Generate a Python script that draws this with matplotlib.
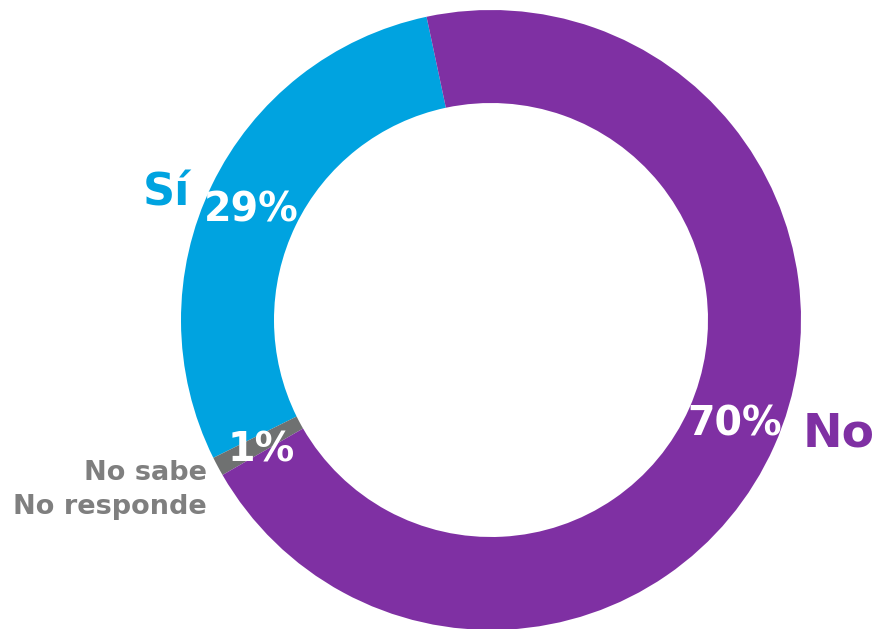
import matplotlib
matplotlib.use("Agg")
import matplotlib.pyplot as plt

# Datos
categorias = ["Sí", "No sabe\nNo responde", "No"]
valores = [29, 1, 70]
etiquetas_pct = ["29%", "1%", "70%"]
colores = ["#00A3E0", "#6F7171", "#7F30A3"]

fig = plt.figure(figsize=(8.79, 6.29), dpi=100)
ax = fig.add_axes([0, 0, 1, 1])

# Donut
ax.pie(valores, colors=colores, startangle=102, counterclock=True,
       center=(491, 309), radius=310, frame=True,
       wedgeprops=dict(width=93, linewidth=0))
ax.set_xlim(0, 879)
ax.set_ylim(0, 629)
ax.set_aspect("equal")
ax.axis("off")

fuente = "DejaVu Sans"

# Porcentajes en blanco
ax.text(251, 629 - 211, etiquetas_pct[0], color="white", fontsize=28.5,
        fontweight="bold", family=fuente, ha="center", va="center")
ax.text(261, 629 - 450, etiquetas_pct[1], color="white", fontsize=28.5,
        fontweight="bold", family=fuente, ha="center", va="center")
ax.text(735, 629 - 424, etiquetas_pct[2], color="white", fontsize=28.5,
        fontweight="bold", family=fuente, ha="center", va="center")

# Etiquetas de categoria
ax.text(166, 629 - 193, categorias[0], color=colores[0], fontsize=32,
        fontweight="bold", family=fuente, ha="center", va="center")
ax.text(207, 629 - 490, categorias[1], color="#7F7F7F", fontsize=19.5,
        fontweight="bold", family=fuente, ha="right", va="center",
        linespacing=1.45)
ax.text(839, 629 - 434, categorias[2], color=colores[2], fontsize=34,
        fontweight="bold", family=fuente, ha="center", va="center")

fig.savefig("out.png", dpi=100)
